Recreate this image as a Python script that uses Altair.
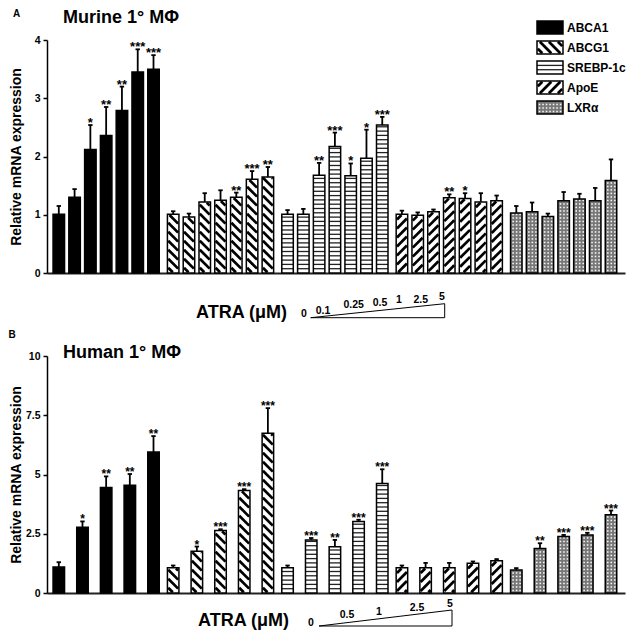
import altair as alt
import pandas as pd

FONT = "Liberation Sans"

GENES = ["ABCA1", "ABCG1", "SREBP-1c", "ApoE", "LXRα"]

# ---------------- Panel A : murine primary macrophages ----------------
DOSES_A = ["0", "0.1", "0.25", "0.5", "1", "2.5", "5"]
A_ABCA1 = [1.01, 1.30, 2.12, 2.36, 2.79, 3.45, 3.50]
A_ABCG1 = [1.01, 0.96, 1.22, 1.25, 1.30, 1.61, 1.65]
A_SREBP = [1.01, 1.01, 1.68, 2.17, 1.67, 1.97, 2.54]
A_APOE = [1.01, 0.99, 1.05, 1.29, 1.28, 1.22, 1.24]
A_LXRA = [1.03, 1.05, 0.97, 1.24, 1.27, 1.24, 1.59]
A_ABCA1_ERR = [0.14, 0.14, 0.42, 0.49, 0.41, 0.39, 0.24]
A_ABCG1_ERR = [0.05, 0.06, 0.15, 0.17, 0.08, 0.14, 0.17]
A_SREBP_ERR = [0.07, 0.09, 0.21, 0.24, 0.21, 0.49, 0.14]
A_APOE_ERR = [0.06, 0.05, 0.04, 0.06, 0.09, 0.15, 0.09]
A_LXRA_ERR = [0.12, 0.16, 0.05, 0.15, 0.09, 0.22, 0.36]
A_ABCA1_SIG = ["", "", "*", "**", "**", "***", "***"]
A_ABCG1_SIG = ["", "", "", "", "**", "***", "**"]
A_SREBP_SIG = ["", "", "**", "***", "*", "*", "***"]
A_APOE_SIG = ["", "", "", "**", "*", "", ""]
A_LXRA_SIG = ["", "", "", "", "", "", ""]

# ---------------- Panel B : human primary macrophages ----------------
DOSES_B = ["0", "0.5", "1", "2.5", "5"]
B_ABCA1 = [1.10, 2.77, 4.45, 4.55, 5.95]
B_ABCG1 = [1.07, 1.76, 2.64, 4.32, 6.74]
B_SREBP = [1.07, 2.24, 1.95, 3.02, 4.62]
B_APOE = [1.07, 1.07, 1.07, 1.26, 1.36]
B_LXRA = [0.97, 1.88, 2.38, 2.45, 3.30]
B_ABCA1_ERR = [0.20, 0.25, 0.47, 0.47, 0.67]
B_ABCG1_ERR = [0.09, 0.20, 0.05, 0.06, 1.06]
B_SREBP_ERR = [0.09, 0.08, 0.29, 0.07, 0.60]
B_APOE_ERR = [0.09, 0.20, 0.20, 0.07, 0.07]
B_LXRA_ERR = [0.08, 0.22, 0.07, 0.09, 0.18]
B_ABCA1_SIG = ["", "*", "**", "**", "**"]
B_ABCG1_SIG = ["", "*", "***", "***", "***"]
B_SREBP_SIG = ["", "***", "**", "***", "***"]
B_APOE_SIG = ["", "", "", "", ""]
B_LXRA_SIG = ["", "**", "***", "***", "***"]

Y_TICKS_A = [0, 1, 2, 3, 4]
Y_TICKS_B = [0, 2.5, 5, 7.5, 10]

# ---------------- layout (pixels) ----------------
VIEW_LEFT = 49
W = 578
H_A, YMAX_A, TOP_A = 233, 4, 39
H_B, YMAX_B, TOP_B = 237, 10, 355
SX = 114.375                    # px per group
SPAN = 94.7 / SX                # within-group span
XMIN = -11.8 / SX
XMAX = XMIN + W / SX
HALF = 5.75 / SX                # half bar width
CAP = 2.2 / SX
INS = 0.8                       # hatch inset (px)
ST_DIAG = 9.0
ST_HORZ = 4.3
DOT = 3.5

FILLS = ["black", "white", "white", "white", "#777777"]


def bars_frame(vals, errs, sigs):
    rows = []
    for g, gene in enumerate(GENES):
        n = len(vals[g])
        for i in range(n):
            xc = g + i / (n - 1) * SPAN
            rows.append({"gene": gene, "xc": xc, "x0": xc - HALF, "x1": xc + HALF,
                         "y0": 0.0, "y1": vals[g][i], "top": vals[g][i] + errs[g][i],
                         "star": sigs[g][i]})
    return pd.DataFrame(rows)


def to_data(px, py, top, ymax, sy):
    return XMIN + (px - VIEW_LEFT) / SX, ymax - (py - top) / sy


def panel(vals, errs, sigs, ymax, height, top, ticks, letter, letter_xy, title,
          title_xy, doses, dose_xy, atra_xy, tri, legend, star_size):
    SY = height / ymax
    xs = alt.Scale(domain=[XMIN, XMAX], nice=False, zero=False)
    ys = alt.Scale(domain=[0, ymax], nice=False, zero=False)
    xax = alt.Axis(title=None, labels=False, ticks=False, grid=False, domain=True,
                   domainColor="#222", domainWidth=2)
    yax = alt.Axis(values=ticks, labelExpr="datum.value", title="Relative mRNA expression",
                   titleFont=FONT, titleFontSize=14, titleFontWeight="bold", titleColor="black",
                   titleX=-31, titleY=height / 2, titleAngle=270, titleAlign="center",
                   titleBaseline="middle", labelFont=FONT, labelFontSize=10.5,
                   labelFontWeight="bold", labelColor="black", labelPadding=3, tickSize=4,
                   tickWidth=1.5, tickColor="black", domainColor="black", domainWidth=1.5,
                   grid=False)

    def X(f):
        return alt.X(f"{f}:Q", scale=xs, axis=xax)

    def Y(f):
        return alt.Y(f"{f}:Q", scale=ys, axis=yax)

    bars = bars_frame(vals, errs, sigs)
    rects = bars[["gene", "x0", "x1", "y0", "y1"]].copy()
    texts_leg = None
    if legend:
        rows, trows = [], []
        for k, gene in enumerate(GENES):
            ytop = 20 + 20 * k
            x0, y1 = to_data(539, ytop, top, ymax, SY)
            x1, y0 = to_data(565, ytop + 13, top, ymax, SY)
            rows.append({"gene": gene, "x0": x0, "x1": x1, "y0": y0, "y1": y1})
            tx, ty = to_data(569, ytop + 6.5, top, ymax, SY)
            trows.append({"label": gene, "x": tx, "y": ty})
        rects = pd.concat([rects, pd.DataFrame(rows)], ignore_index=True)
        texts_leg = pd.DataFrame(trows)

    fill = alt.Fill("gene:N", scale=alt.Scale(domain=GENES, range=FILLS), legend=None)
    base_rect = alt.Chart(rects).mark_rect(strokeWidth=0).encode(
        x=X("x0"), x2="x1", y=Y("y0"), y2="y1", fill=fill)

    def sized(gene):
        return alt.Chart(rects).transform_filter(alt.datum.gene == gene).transform_calculate(
            Wp=f"(datum.x1 - datum.x0) * {SX} - {2 * INS}",
            Hp=f"(datum.y1 - datum.y0) * {SY} - {2 * INS}",
        )

    # "\\" stripes (ABCG1)
    back = sized("ABCG1").transform_calculate(
        cs=f"sequence({ST_DIAG / 2}, datum.Wp + datum.Hp, {ST_DIAG})"
    ).transform_flatten(["cs"], as_=["c"]).transform_calculate(
        hx1=f"datum.x0 + ({INS} + min(datum.c, datum.Wp)) / {SX}",
        hy1=f"datum.y0 + ({INS} + max(0, datum.c - datum.Wp)) / {SY}",
        hx2=f"datum.x0 + ({INS} + max(0, datum.c - datum.Hp)) / {SX}",
        hy2=f"datum.y0 + ({INS} + min(datum.c, datum.Hp)) / {SY}",
    ).mark_rule(color="black", strokeWidth=2.7).encode(
        x=X("hx1"), x2="hx2", y=Y("hy1"), y2="hy2")

    # "/" stripes (ApoE)
    fwd = sized("ApoE").transform_calculate(
        cs=f"sequence(-datum.Hp + {ST_DIAG / 2}, datum.Wp, {ST_DIAG})"
    ).transform_flatten(["cs"], as_=["c"]).transform_calculate(
        hx1=f"datum.x0 + ({INS} + max(datum.c, 0)) / {SX}",
        hy1=f"datum.y0 + ({INS} + max(-datum.c, 0)) / {SY}",
        hx2=f"datum.x0 + ({INS} + min(datum.c + datum.Hp, datum.Wp)) / {SX}",
        hy2=f"datum.y0 + ({INS} + min(datum.Wp - datum.c, datum.Hp)) / {SY}",
    ).mark_rule(color="black", strokeWidth=2.7).encode(
        x=X("hx1"), x2="hx2", y=Y("hy1"), y2="hy2")

    # horizontal lines (SREBP-1c)
    horz = sized("SREBP-1c").transform_calculate(
        cs=f"sequence({ST_HORZ}, datum.Hp + {2 * INS} - 1, {ST_HORZ})"
    ).transform_flatten(["cs"], as_=["c"]).transform_calculate(
        hy=f"datum.y0 + datum.c / {SY}"
    ).mark_rule(color="#222", strokeWidth=1.3).encode(
        x=X("x0"), x2="x1", y=Y("hy"))

    # dotted (LXRa)
    dots = sized("LXRα").transform_calculate(
        rs=f"sequence({DOT / 2}, datum.Hp, {DOT})"
    ).transform_flatten(["rs"], as_=["r"]).transform_calculate(
        ks=f"sequence({DOT / 2}, datum.Wp, {DOT})"
    ).transform_flatten(["ks"], as_=["k"]).transform_calculate(
        px=f"datum.x0 + ({INS} + datum.k) / {SX}",
        py=f"datum.y0 + ({INS} + datum.r) / {SY}",
    ).mark_square(color="white", size=2.5, opacity=0.95).encode(x=X("px"), y=Y("py"))

    outline = alt.Chart(rects).mark_rect(fillOpacity=0, stroke="black", strokeWidth=1.5).encode(
        x=X("x0"), x2="x1", y=Y("y0"), y2="y1")

    err = alt.Chart(bars).mark_rule(color="black", strokeWidth=1.8).encode(
        x=X("xc"), y=Y("y1"), y2="top")
    cap = alt.Chart(bars).transform_calculate(
        cl=f"datum.xc - {CAP}", cr=f"datum.xc + {CAP}"
    ).mark_rule(color="black", strokeWidth=1.8).encode(x=X("cl"), x2="cr", y=Y("top"))
    stars = alt.Chart(bars).mark_text(font=FONT, fontWeight="bold", fontSize=star_size,
                                      baseline="alphabetic", align="center", dy=2,
                                      color="black").encode(
        x=X("xc"), y=Y("top"), text="star:N")

    def txt(rows, size, align, weight="bold"):
        df = pd.DataFrame(rows)
        return alt.Chart(df).mark_text(font=FONT, fontSize=size, fontWeight=weight, align=align,
                                       baseline="middle", color="black").encode(
            x=X("x"), y=Y("y"), text="label:N")

    def pt(label, xy):
        x, y = to_data(xy[0], xy[1], top, ymax, SY)
        return {"label": label, "x": x, "y": y}

    layers = [base_rect, back, fwd, horz, dots, outline, err, cap, stars,
              txt([pt(letter, letter_xy)], 10, "center"),
              txt([pt(title, title_xy)], 18, "left"),
              txt([pt("ATRA (μM)", atra_xy)], 18, "left"),
              txt([pt(d, xy) for d, xy in zip(doses, dose_xy)], 10.5, "center")]

    (tx0, tx1, tyb, tya) = tri
    a0 = to_data(tx0, tyb, top, ymax, SY)
    a1 = to_data(tx1, tyb, top, ymax, SY)
    a2 = to_data(tx1, tya, top, ymax, SY)
    tri_df = pd.DataFrame([
        {"xa": a0[0], "ya": a0[1], "xb": a1[0], "yb": a1[1]},
        {"xa": a1[0], "ya": a1[1], "xb": a2[0], "yb": a2[1]},
        {"xa": a0[0], "ya": a0[1], "xb": a2[0], "yb": a2[1]},
    ])
    layers.append(alt.Chart(tri_df).mark_rule(color="black", strokeWidth=1).encode(
        x=X("xa"), x2="xb", y=Y("ya"), y2="yb"))

    if texts_leg is not None:
        layers.append(alt.Chart(texts_leg).mark_text(
            font=FONT, fontSize=12, fontWeight="bold", align="left", baseline="middle",
            color="black").encode(x=X("x"), y=Y("y"), text="label:N"))

    return alt.layer(*layers).properties(width=W, height=height)


chart_a = panel(
    [A_ABCA1, A_ABCG1, A_SREBP, A_APOE, A_LXRA],
    [A_ABCA1_ERR, A_ABCG1_ERR, A_SREBP_ERR, A_APOE_ERR, A_LXRA_ERR],
    [A_ABCA1_SIG, A_ABCG1_SIG, A_SREBP_SIG, A_APOE_SIG, A_LXRA_SIG],
    YMAX_A, H_A, TOP_A, Y_TICKS_A, "A", (18.5, 13), "Murine 1° MΦ", (65, 16.5),
    DOSES_A, [(306, 313.3), (325, 310), (355.7, 303.7), (382, 302), (401, 299),
              (422.7, 299), (444, 296.3)],
    (198, 311.5), (312.7, 446.7, 316.7, 302.7), True, 13)

chart_b = panel(
    [B_ABCA1, B_ABCG1, B_SREBP, B_APOE, B_LXRA],
    [B_ABCA1_ERR, B_ABCG1_ERR, B_SREBP_ERR, B_APOE_ERR, B_LXRA_ERR],
    [B_ABCA1_SIG, B_ABCG1_SIG, B_SREBP_SIG, B_APOE_SIG, B_LXRA_SIG],
    YMAX_B, H_B, TOP_B, Y_TICKS_B, "B", (14, 334), "Human 1° MΦ", (65, 351.5),
    DOSES_B, [(313, 621.5), (349, 614), (381, 611), (419, 607), (452, 602.5)],
    (200, 620), (321, 454, 625, 609), False, 12)

chart = alt.vconcat(chart_a, chart_b, spacing=TOP_B - TOP_A - H_A, bounds="flush").properties(
    padding=0).configure_view(stroke=None)

chart.save("out.html", embed_options={"renderer": "svg", "actions": False})
